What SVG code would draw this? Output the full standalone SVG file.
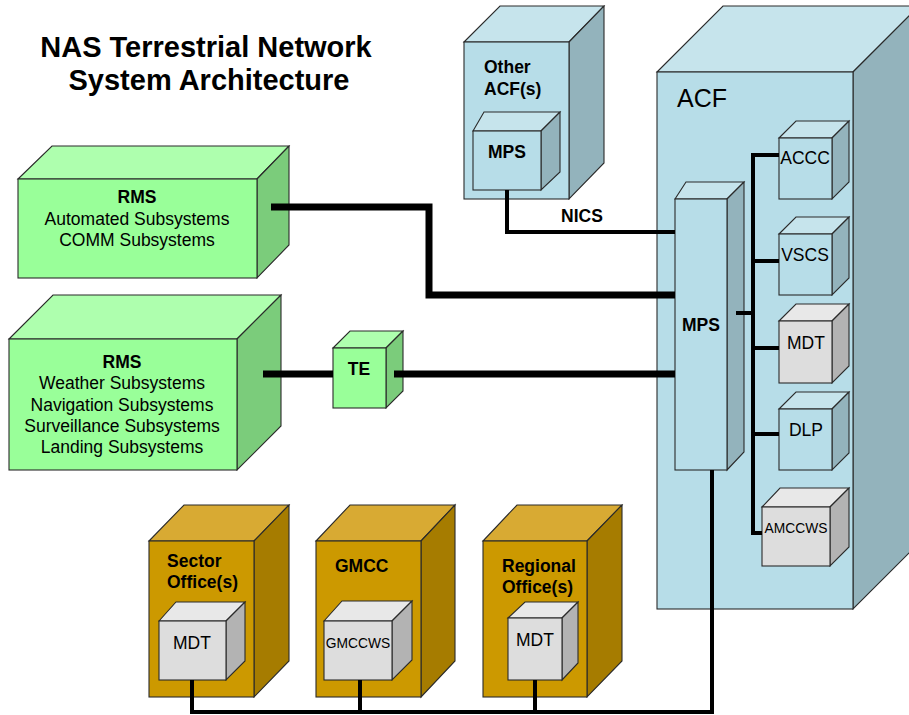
<svg xmlns="http://www.w3.org/2000/svg" width="909" height="715" viewBox="0 0 909 715">
<style>
text{font-family:"Liberation Sans",Arial,sans-serif;fill:#000}
.b{font-weight:bold}
.c{text-anchor:middle}
.e{stroke:#2a2a2a;stroke-width:1.1;stroke-linejoin:miter}
.bf{fill:#B7DDE8}.bt{fill:#C6E4EC}.bs{fill:#93B3BC}
.gf{fill:#99FF99}.gt{fill:#AEFFAE}.gs{fill:#7BCC7B}
.yf{fill:#CC9900}.yt{fill:#D8AA33}.ys{fill:#A67C00}
.xf{fill:#DDDDDD}.xt{fill:#E8E8E8}.xs{fill:#B3B3B3}
.w{fill:none;stroke:#000;stroke-linejoin:miter;stroke-linecap:butt}
.t4{stroke-width:4}.t7{stroke-width:7}
.l17{font-size:17.5px}.l14{font-size:13.8px}
</style>
<rect width="909" height="715" fill="#fff"/>
<g id="title">
<text class="b c" x="206" y="57" font-size="29">NAS Terrestrial Network</text>
<text class="b c" x="209" y="90" font-size="29">System Architecture</text>
</g>
<g id="other-acf">
<polygon class="e bt" points="464,42 500,6 604,6 569,42"/>
<polygon class="e bs" points="569,42 604,6 604,163 569,199"/>
<rect class="e bf" x="464" y="42" width="105" height="157"/>
<text class="b l17" x="484" y="73">Other</text>
<text class="b l17" x="484" y="95">ACF(s)</text>
</g>
<g id="other-mps">
<polygon class="e bt" points="473,131 484,112 560,112 541,131"/>
<polygon class="e bs" points="541,131 560,112 560,172 541,190"/>
<rect class="e bf" x="473" y="131" width="68" height="59"/>
<text class="b l17" x="488" y="158">MPS</text>
</g>
<g id="acf">
<polygon class="e bt" points="657,72 723,6 919,6 853,72"/>
<polygon class="e bs" points="853,72 919,6 919,543 853,609"/>
<rect class="e bf" x="657" y="72" width="196" height="537"/>
<text x="677" y="107" font-size="25">ACF</text>
</g>
<g id="acf-mps">
<polygon class="e bt" points="675,199 686,182 744,182 727,199"/>
<polygon class="e bs" points="727,199 744,182 744,452 727,470"/>
<rect class="e bf" x="675" y="199" width="52" height="271"/>
<text class="b c l17" x="701" y="331">MPS</text>
</g>
<g id="accc">
<polygon class="e bt" points="779,138 796,121 849,121 832,138"/>
<polygon class="e bs" points="832,138 849,121 849,182 832,199"/>
<rect class="e bf" x="779" y="138" width="53" height="61"/>
<text class="c l17" x="805" y="164">ACCC</text>
</g>
<g id="vscs">
<polygon class="e bt" points="779,234 796,217 849,217 832,234"/>
<polygon class="e bs" points="832,234 849,217 849,278 832,295"/>
<rect class="e bf" x="779" y="234" width="53" height="61"/>
<text class="c l17" x="805" y="261">VSCS</text>
</g>
<g id="acf-mdt">
<polygon class="e xt" points="779,321 796,304 849,304 832,321"/>
<polygon class="e xs" points="832,321 849,304 849,366 832,383"/>
<rect class="e xf" x="779" y="321" width="53" height="62"/>
<text class="c l17" x="806" y="349">MDT</text>
</g>
<g id="dlp">
<polygon class="e bt" points="779,409 796,392 849,392 832,409"/>
<polygon class="e bs" points="832,409 849,392 849,453 832,470"/>
<rect class="e bf" x="779" y="409" width="53" height="61"/>
<text class="c l17" x="806" y="436">DLP</text>
</g>
<g id="amccws">
<polygon class="e xt" points="762,507 780,488 849,488 830,507"/>
<polygon class="e xs" points="830,507 849,488 849,547 830,566"/>
<rect class="e xf" x="762" y="507" width="68" height="59"/>
<text class="c l14" x="796" y="533">AMCCWS</text>
</g>
<g id="rms-1">
<polygon class="e gt" points="18,179 52,146 289,146 257,179"/>
<polygon class="e gs" points="257,179 289,146 289,245 257,278"/>
<rect class="e gf" x="18" y="179" width="239" height="99"/>
<text class="b c l17" x="137" y="203">RMS</text>
<text class="c l17" x="137" y="225">Automated Subsystems</text>
<text class="c l17" x="137" y="246">COMM Subsystems</text>
</g>
<g id="rms-2">
<polygon class="e gt" points="9,339 53,295 281,295 237,339"/>
<polygon class="e gs" points="237,339 281,295 281,426 237,470"/>
<rect class="e gf" x="9" y="339" width="228" height="131"/>
<text class="b c l17" x="122" y="368">RMS</text>
<text class="c l17" x="122" y="389">Weather Subsystems</text>
<text class="c l17" x="122" y="411">Navigation Subsystems</text>
<text class="c l17" x="122" y="432">Surveillance Subsystems</text>
<text class="c l17" x="122" y="453">Landing Subsystems</text>
</g>
<g id="te">
<polygon class="e gt" points="333,348 350,331 403,331 386,348"/>
<polygon class="e gs" points="386,348 403,331 403,391 386,408"/>
<rect class="e gf" x="333" y="348" width="53" height="60"/>
<text class="b c l17" x="359" y="375">TE</text>
</g>
<g id="sector-office">
<polygon class="e yt" points="149,541 184,505 289,505 254,541"/>
<polygon class="e ys" points="254,541 289,505 289,661 254,697"/>
<rect class="e yf" x="149" y="541" width="105" height="156"/>
<text class="b l17" x="167" y="567">Sector</text>
<text class="b l17" x="167" y="588">Office(s)</text>
</g>
<g id="sector-mdt">
<polygon class="e xt" points="159,621 176,602 245,602 226,621"/>
<polygon class="e xs" points="226,621 245,602 245,661 226,680"/>
<rect class="e xf" x="159" y="621" width="67" height="59"/>
<text class="c l17" x="192" y="649">MDT</text>
</g>
<g id="gmcc">
<polygon class="e yt" points="316,541 350,505 455,505 421,541"/>
<polygon class="e ys" points="421,541 455,505 455,661 421,697"/>
<rect class="e yf" x="316" y="541" width="105" height="156"/>
<text class="b l17" x="335" y="572">GMCC</text>
</g>
<g id="gmccws">
<polygon class="e xt" points="324,621 342,601 412,601 392,621"/>
<polygon class="e xs" points="392,621 412,601 412,660 392,680"/>
<rect class="e xf" x="324" y="621" width="68" height="59"/>
<text class="c l14" x="358" y="648">GMCCWS</text>
</g>
<g id="regional-office">
<polygon class="e yt" points="483,541 517,505 622,505 587,541"/>
<polygon class="e ys" points="587,541 622,505 622,661 587,697"/>
<rect class="e yf" x="483" y="541" width="104" height="156"/>
<text class="b l17" x="502" y="572">Regional</text>
<text class="b l17" x="502" y="593">Office(s)</text>
</g>
<g id="regional-mdt">
<polygon class="e xt" points="508,618 525,602 578,602 562,618"/>
<polygon class="e xs" points="562,618 578,602 578,663 562,680"/>
<rect class="e xf" x="508" y="618" width="54" height="62"/>
<text class="c l17" x="535" y="646">MDT</text>
</g>
<g id="connectors">
<path class="w t4" d="M507,190 V232 H675"/>
<path class="w t7" d="M271,207 H429 V295 H675"/>
<path class="w t7" d="M263,374 H333 M394,374 H675"/>
<path class="w t4" d="M779,155 H753 V533 H762 M753,261 H779 M753,348 H779 M753,434 H779 M736,313 H753"/>
<path class="w t4" d="M712,470 V712 H192 V680 M360,680 V712 M535,680 V712"/>
</g>
<g id="labels">
<text class="b l17" x="561" y="222">NICS</text>
</g>
</svg>
